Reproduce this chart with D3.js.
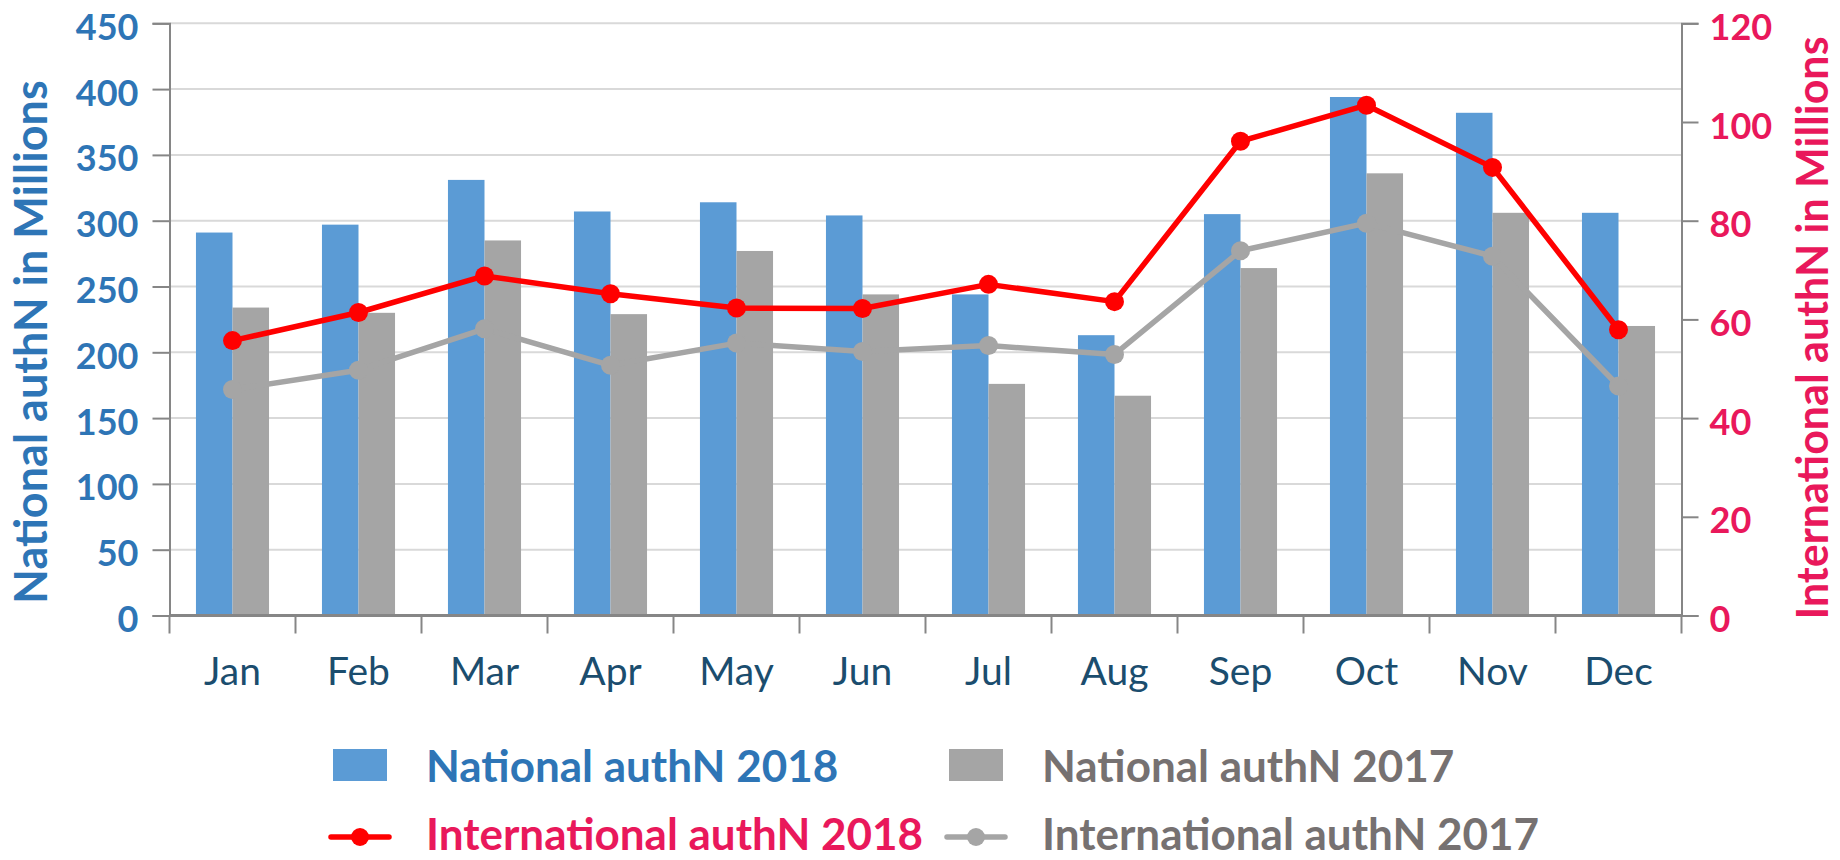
<!DOCTYPE html>
<html lang="en">
<head>
    <meta charset="UTF-8">
    <title>authN per month</title>
    <script src="https://d3js.org/d3.v7.min.js"></script>
    <style>
        body { margin: 0; background: #fff; }
        svg text { font-family: Lato, "Open Sans", sans-serif; }
    </style>
</head>
<body>
    <div id="chart"></div>
    <script>
        const months = ["Jan", "Feb", "Mar", "Apr", "May", "Jun", "Jul", "Aug", "Sep", "Oct", "Nov", "Dec"];
        const national_2018 = [291, 297, 331, 307, 314, 304, 244, 213, 305, 394, 382, 306];
        const national_2017 = [234, 230, 285, 229, 277, 244, 176, 167, 264, 336, 306, 220];
        const international_2018 = [55.7, 61.4, 68.8, 65.2, 62.3, 62.2, 67.1, 63.6, 96.1, 103.4, 90.8, 57.9];
        const international_2017 = [45.8, 49.7, 58.1, 50.7, 55.2, 53.5, 54.7, 52.9, 73.9, 79.5, 72.8, 46.5];
        const left_ticks = [0, 50, 100, 150, 200, 250, 300, 350, 400, 450];
        const right_ticks = [0, 20, 40, 60, 80, 100, 120];

        const blue = "#5B9BD5", grey = "#A5A5A5", red = "#FF0000";
        const blue_text = "#2E75B6", pink_text = "#E9185B", grey_text = "#767171";

        const svg = d3.select("#chart")
            .append("svg")
            .attr("width", 1840)
            .attr("height", 860);

        const plot_left = 169.5, plot_right = 1681.5, plot_top = 23.3, plot_bottom = 615.5;

        const x0 = d3.scaleBand()
            .domain(months)
            .range([plot_left, plot_right])
            .paddingInner(0.42)
            .paddingOuter(0.21);

        const x1 = d3.scaleBand()
            .domain(["2018", "2017"])
            .range([0, x0.bandwidth()]);

        const y_left = d3.scaleLinear().domain([0, 450]).range([plot_bottom, plot_top]);
        const y_right = d3.scaleLinear().domain([0, 120]).range([plot_bottom, plot_top]);

        // gridlines
        svg.append("g")
            .selectAll("line")
            .data(left_ticks.slice(1))
            .enter()
            .append("line")
            .attr("x1", plot_left)
            .attr("x2", plot_right)
            .attr("y1", d => y_left(d))
            .attr("y2", d => y_left(d))
            .attr("stroke", "#D9D9D9")
            .attr("stroke-width", 2);

        // bars
        const groups = svg.append("g")
            .selectAll("g")
            .data(months)
            .enter()
            .append("g")
            .attr("transform", d => "translate(" + x0(d) + ",0)");

        groups.append("rect")
            .attr("x", x1("2018"))
            .attr("width", x1.bandwidth())
            .attr("y", (d, i) => y_left(national_2018[i]))
            .attr("height", (d, i) => plot_bottom - y_left(national_2018[i]))
            .attr("fill", blue);

        groups.append("rect")
            .attr("x", x1("2017"))
            .attr("width", x1.bandwidth())
            .attr("y", (d, i) => y_left(national_2017[i]))
            .attr("height", (d, i) => plot_bottom - y_left(national_2017[i]))
            .attr("fill", grey);

        // axes
        const left_axis = svg.append("g")
            .attr("transform", "translate(" + plot_left + ",0)")
            .call(d3.axisLeft(y_left).tickValues(left_ticks).tickSize(17).tickPadding(14));

        const right_axis = svg.append("g")
            .attr("transform", "translate(" + plot_right + ",0)")
            .call(d3.axisRight(y_right).tickValues(right_ticks).tickSize(17).tickPadding(11));

        [left_axis, right_axis].forEach(a => {
            a.select(".domain").attr("stroke", "#868686").attr("stroke-width", 2);
            a.selectAll(".tick line").attr("stroke", "#868686").attr("stroke-width", 2);
            a.selectAll(".tick text")
                .attr("font-size", "36px")
                .attr("font-weight", "bold")
                .attr("dy", "16px")
                .style("font-family", "Lato, sans-serif");
        });
        left_axis.selectAll(".tick text").attr("fill", blue_text);
        right_axis.selectAll(".tick text").attr("fill", pink_text);

        const bottom_axis = svg.append("g")
            .attr("transform", "translate(0," + plot_bottom + ")")
            .call(d3.axisBottom(x0).tickSize(0).tickPadding(42));
        bottom_axis.select(".domain").remove();
        bottom_axis.selectAll(".tick text")
            .attr("font-size", "39px")
            .attr("fill", "#1B4D6E")
            .style("font-family", "Lato, sans-serif");

        svg.append("g")
            .selectAll("line")
            .data(d3.range(months.length + 1))
            .enter()
            .append("line")
            .attr("x1", i => plot_left + i * x0.step())
            .attr("x2", i => plot_left + i * x0.step())
            .attr("y1", plot_bottom)
            .attr("y2", plot_bottom + 18)
            .attr("stroke", "#868686")
            .attr("stroke-width", 2);

        svg.append("line")
            .attr("x1", plot_left)
            .attr("x2", plot_right)
            .attr("y1", plot_bottom)
            .attr("y2", plot_bottom)
            .attr("stroke", "#868686")
            .attr("stroke-width", 3);

        // lines
        const cx = d => x0(d) + x0.bandwidth() / 2;

        function draw_line(values, colour) {
            const pts = months.map((m, i) => [cx(m), y_right(values[i])]);
            svg.append("path")
                .attr("d", d3.line()(pts))
                .attr("fill", "none")
                .attr("stroke", colour)
                .attr("stroke-width", 5.5)
                .attr("stroke-linejoin", "round");
            svg.append("g")
                .selectAll("circle")
                .data(pts)
                .enter()
                .append("circle")
                .attr("cx", d => d[0])
                .attr("cy", d => d[1])
                .attr("r", 9.5)
                .attr("fill", colour);
        }
        draw_line(international_2017, grey);
        draw_line(international_2018, red);

        // axis titles
        svg.append("text")
            .attr("transform", "translate(47,342) rotate(-90)")
            .attr("text-anchor", "middle")
            .attr("font-size", "45px")
            .attr("font-weight", "bold")
            .attr("fill", blue_text)
            .text("National authN in Millions");

        svg.append("text")
            .attr("transform", "translate(1828,328) rotate(-90)")
            .attr("text-anchor", "middle")
            .attr("font-size", "43px")
            .attr("font-weight", "bold")
            .attr("fill", pink_text)
            .text("International authN in Millions");

        // legend
        const legend = svg.append("g").attr("font-size", "44px").attr("font-weight", "bold");

        legend.append("rect").attr("x", 333).attr("y", 749).attr("width", 54).attr("height", 32).attr("fill", blue);
        legend.append("text").attr("x", 426).attr("y", 782).attr("fill", blue_text).text("National authN 2018");

        legend.append("rect").attr("x", 949).attr("y", 749).attr("width", 54).attr("height", 32).attr("fill", grey);
        legend.append("text").attr("x", 1042).attr("y", 782).attr("fill", grey_text).text("National authN 2017");

        [[331, red, pink_text, "International authN 2018"], [947, grey, grey_text, "International authN 2017"]].forEach(item => {
            legend.append("line")
                .attr("x1", item[0]).attr("x2", item[0] + 58)
                .attr("y1", 837).attr("y2", 837)
                .attr("stroke", item[1]).attr("stroke-width", 5.5).attr("stroke-linecap", "round");
            legend.append("circle")
                .attr("cx", item[0] + 29).attr("cy", 837).attr("r", 9).attr("fill", item[1]);
            legend.append("text").attr("x", item[0] + 95).attr("y", 850).attr("fill", item[2]).text(item[3]);
        });
    </script>
</body>
</html>
